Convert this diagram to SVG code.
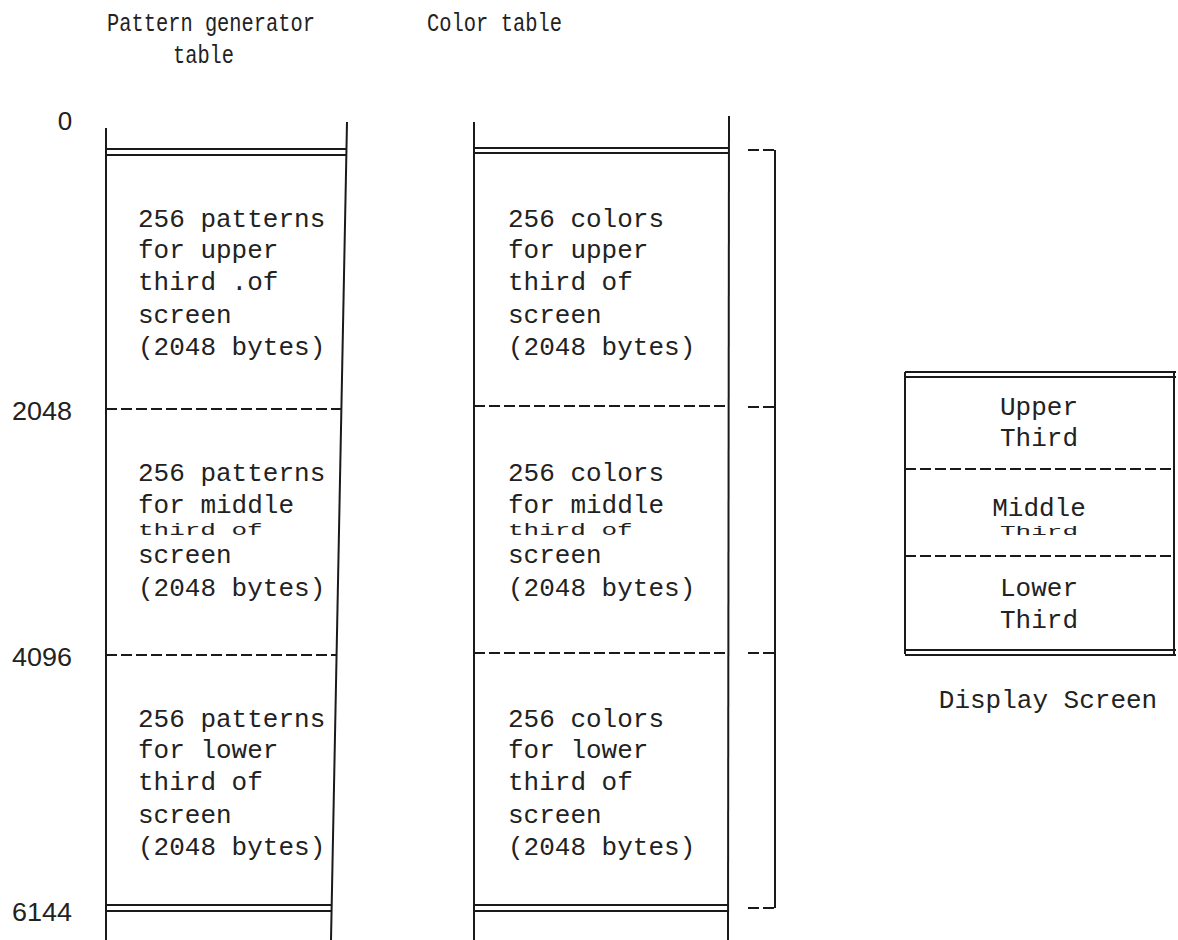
<svg xmlns="http://www.w3.org/2000/svg" width="1178" height="940" viewBox="0 0 1178 940">
<style>
.ln{stroke:#1a1a1a;stroke-width:2;fill:none}
.dl{stroke:#1a1a1a;stroke-width:2;fill:none;stroke-dasharray:11 4}
.t{font-family:"Liberation Mono","DejaVu Sans Mono",monospace;font-size:26px;fill:#222}
.h{font-family:"Liberation Mono","DejaVu Sans Mono",monospace;font-size:26px;fill:#222}
.n{font-family:"Liberation Sans",Arial,sans-serif;font-size:26px;fill:#222}
</style>
<rect width="1178" height="940" fill="#fff"/>
<g id="headers">
<text class="h" x="107" y="31" textLength="208" lengthAdjust="spacingAndGlyphs">Pattern generator</text>
<text class="h" x="173" y="63" textLength="61" lengthAdjust="spacingAndGlyphs">table</text>
<text class="h" x="427" y="31" textLength="135" lengthAdjust="spacingAndGlyphs">Color table</text>
</g>
<g id="addresses">
<text class="n" x="65" y="130" text-anchor="middle">0</text>
<text class="n" x="42" y="420" text-anchor="middle" textLength="60" lengthAdjust="spacingAndGlyphs">2048</text>
<text class="n" x="42" y="666" text-anchor="middle" textLength="60" lengthAdjust="spacingAndGlyphs">4096</text>
<text class="n" x="42" y="921" text-anchor="middle" textLength="60" lengthAdjust="spacingAndGlyphs">6144</text>
</g>
<g id="pattern-table">
<line class="ln" x1="106" y1="128" x2="106" y2="940"/>
<line class="ln" x1="347" y1="122" x2="331" y2="940"/>
<line class="ln" x1="106" y1="149" x2="346" y2="149"/>
<line class="ln" x1="106" y1="155" x2="346" y2="155"/>
<line class="dl" x1="106" y1="409" x2="341" y2="409"/>
<line class="dl" x1="106" y1="655" x2="337" y2="655"/>
<line class="ln" x1="106" y1="905" x2="332" y2="905"/>
<line class="ln" x1="106" y1="911" x2="332" y2="911"/>
<text class="t" x="138" y="227">256 patterns</text>
<text class="t" x="138" y="258">for upper</text>
<text class="t" x="138" y="290">third .of</text>
<text class="t" x="138" y="323">screen</text>
<text class="t" x="138" y="355">(2048 bytes)</text>
<text class="t" x="138" y="481">256 patterns</text>
<text class="t" x="138" y="513">for middle</text>
<text class="t" transform="translate(138,535) scale(1,0.65)">third of</text>
<text class="t" x="138" y="563">screen</text>
<text class="t" x="138" y="596">(2048 bytes)</text>
<text class="t" x="138" y="727">256 patterns</text>
<text class="t" x="138" y="758">for lower</text>
<text class="t" x="138" y="790">third of</text>
<text class="t" x="138" y="823">screen</text>
<text class="t" x="138" y="855">(2048 bytes)</text>
</g>
<g id="color-table">
<line class="ln" x1="474" y1="122" x2="474" y2="940"/>
<line class="ln" x1="729" y1="116" x2="728" y2="940"/>
<line class="ln" x1="474" y1="148" x2="728" y2="148"/>
<line class="ln" x1="474" y1="153" x2="728" y2="153"/>
<line class="dl" x1="474" y1="406" x2="728" y2="406"/>
<line class="dl" x1="474" y1="653" x2="728" y2="653"/>
<line class="ln" x1="474" y1="905" x2="728" y2="905"/>
<line class="ln" x1="474" y1="911" x2="728" y2="911"/>
<text class="t" x="508" y="227">256 colors</text>
<text class="t" x="508" y="258">for upper</text>
<text class="t" x="508" y="290">third of</text>
<text class="t" x="508" y="323">screen</text>
<text class="t" x="508" y="355">(2048 bytes)</text>
<text class="t" x="508" y="481">256 colors</text>
<text class="t" x="508" y="513">for middle</text>
<text class="t" transform="translate(508,535) scale(1,0.65)">third of</text>
<text class="t" x="508" y="563">screen</text>
<text class="t" x="508" y="596">(2048 bytes)</text>
<text class="t" x="508" y="727">256 colors</text>
<text class="t" x="508" y="758">for lower</text>
<text class="t" x="508" y="790">third of</text>
<text class="t" x="508" y="823">screen</text>
<text class="t" x="508" y="855">(2048 bytes)</text>
</g>
<g id="connectors">
<line class="ln" x1="775" y1="150" x2="775" y2="908"/>
<line class="dl" x1="748" y1="150" x2="775" y2="150"/>
<line class="dl" x1="748" y1="407" x2="775" y2="407"/>
<line class="dl" x1="748" y1="653" x2="775" y2="653"/>
<line class="dl" x1="748" y1="908" x2="775" y2="908"/>
</g>
<g id="display-screen">
<line class="ln" x1="905" y1="372" x2="905" y2="654"/>
<line class="ln" x1="1174" y1="372" x2="1174" y2="654"/>
<line class="ln" x1="905" y1="372" x2="1176" y2="372"/>
<line class="ln" x1="905" y1="377" x2="1176" y2="377"/>
<line class="dl" x1="905" y1="469" x2="1174" y2="469"/>
<line class="dl" x1="905" y1="556" x2="1174" y2="556"/>
<line class="ln" x1="905" y1="650" x2="1176" y2="650"/>
<line class="ln" x1="905" y1="655" x2="1176" y2="655"/>
<text class="t" x="1039" y="415" text-anchor="middle">Upper</text>
<text class="t" x="1039" y="446" text-anchor="middle">Third</text>
<text class="t" x="1039" y="516" text-anchor="middle">Middle</text>
<text class="t" text-anchor="middle" transform="translate(1039,535) scale(1,0.5)">Third</text>
<text class="t" x="1039" y="596" text-anchor="middle">Lower</text>
<text class="t" x="1039" y="628" text-anchor="middle">Third</text>
<text class="t" x="1048" y="708" text-anchor="middle">Display Screen</text>
</g>
</svg>
